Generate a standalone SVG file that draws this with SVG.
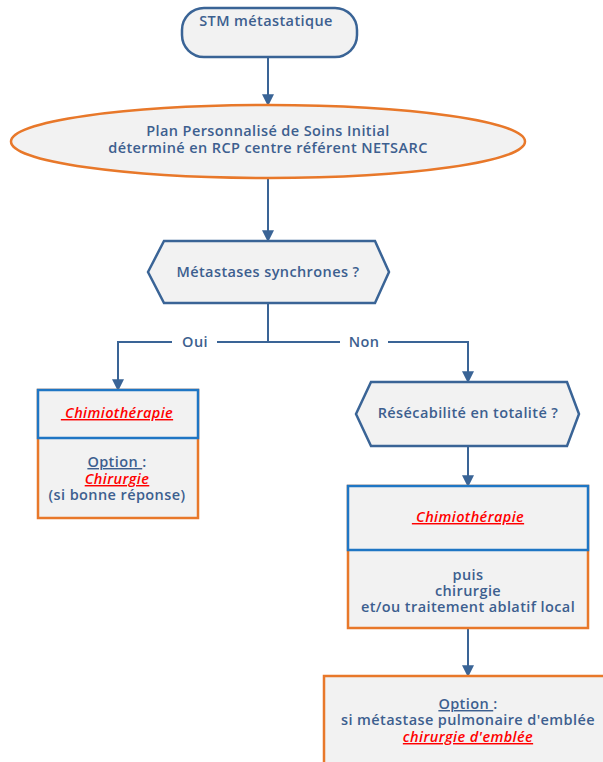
<svg xmlns="http://www.w3.org/2000/svg" width="603" height="762" viewBox="0 0 603 762">
<defs>
<marker id="arr" viewBox="0 0 10 10" refX="9" refY="5" markerUnits="userSpaceOnUse" markerWidth="12" markerHeight="12" orient="auto">
<path d="M0,0 L10,5 L0,10 z" fill="#3a6496"/>
</marker>
<style>
.shape{fill:#f2f2f2;stroke:#3a6496;stroke-width:2.5}
.orange{fill:#f2f2f2;stroke:#e8782a;stroke-width:2.5}
.blue{fill:#f2f2f2;stroke:#1f76c4;stroke-width:2.5}
.conn{fill:none;stroke:#3a6496;stroke-width:2}
text{font-family:"Open Sans","Noto Sans",sans-serif;font-size:14.5px;letter-spacing:0.4px;font-weight:600;fill:#3d5f8f;text-anchor:middle}
.red{fill:#ff0000;font-style:italic;text-decoration:underline}
.ul{text-decoration:underline}
</style>
</defs>
<rect width="603" height="762" fill="#ffffff"/>
<g id="connectors">
<path class="conn" d="M268,57 V105" marker-end="url(#arr)"/>
<path class="conn" d="M268,178 V241" marker-end="url(#arr)"/>
<path class="conn" d="M268,303 V342"/>
<path class="conn" d="M172,342 H118 V390" marker-end="url(#arr)"/>
<path class="conn" d="M217,342 H340"/>
<path class="conn" d="M388,342 H468 V382" marker-end="url(#arr)"/>
<path class="conn" d="M468,446 V486" marker-end="url(#arr)"/>
<path class="conn" d="M468,628 V676" marker-end="url(#arr)"/>
<text x="195" y="347">Oui</text>
<text x="364" y="347">Non</text>
</g>
<g id="start">
<rect class="shape" x="182" y="8" width="175" height="49" rx="22"/>
<text x="266" y="26">STM métastatique</text>
</g>
<g id="plan">
<ellipse class="orange" cx="268" cy="141.5" rx="257" ry="36.5"/>
<text x="268" y="136">Plan Personnalisé de Soins Initial</text>
<text x="268" y="153">déterminé en RCP centre référent NETSARC</text>
</g>
<g id="synchrones">
<polygon class="shape" points="148,272 164,241 375,241 389,272 375,303 164,303"/>
<text x="268" y="277">Métastases synchrones ?</text>
</g>
<g id="oui-box">
<rect class="orange" x="38" y="390" width="160" height="128"/>
<rect class="blue" x="38" y="390" width="160" height="48"/>
<text x="117" y="418" class="red" xml:space="preserve"> Chimiothérapie</text>
<text x="117" y="467"><tspan class="ul" xml:space="preserve">Option </tspan>:</text>
<text x="117" y="484" class="red">Chirurgie</text>
<text x="117" y="500">(si bonne réponse)</text>
</g>
<g id="resecabilite">
<polygon class="shape" points="356,414 371,382 567,382 579,414 567,446 371,446"/>
<text x="468" y="418">Résécabilité en totalité ?</text>
</g>
<g id="non-box">
<rect class="orange" x="348" y="486" width="240" height="142"/>
<rect class="blue" x="348" y="486" width="240" height="64"/>
<text x="468" y="522" class="red" xml:space="preserve"> Chimiothérapie</text>
<text x="468" y="580">puis</text>
<text x="468" y="596">chirurgie</text>
<text x="468" y="612">et/ou traitement ablatif local</text>
</g>
<g id="option-box">
<rect class="orange" x="324" y="676" width="290" height="100"/>
<text x="468" y="709"><tspan class="ul" xml:space="preserve">Option </tspan>:</text>
<text x="468" y="725">si métastase pulmonaire d'emblée</text>
<text x="468" y="742" class="red">chirurgie d'emblée</text>
</g>
</svg>
